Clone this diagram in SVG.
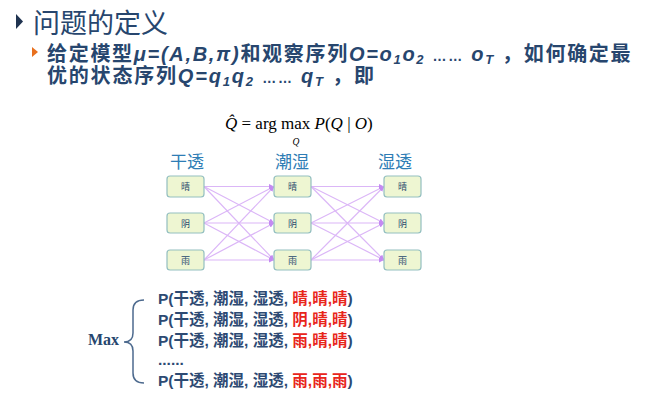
<svg xmlns="http://www.w3.org/2000/svg" width="656" height="400" viewBox="0 0 656 400">
<style>
.t{font-family:"Liberation Sans","Noto Sans CJK SC",sans-serif;fill:#27466E}
.h1{font-size:27px}
.h2{font-size:20px;font-weight:bold}
.it{font-style:italic}
.sub{font-size:13px}
.ell{font-size:14px}
.col{font-family:"Noto Sans CJK SC",sans-serif;font-size:17px;fill:#2E7DB5}
.node rect{fill:#EEF6D2;stroke:#93BFC0;stroke-width:1.2}
.node text{font-family:"Noto Sans CJK SC",sans-serif;font-size:9px;fill:#2A4A6E;text-anchor:middle}
.edge line{stroke:#DBB6F7;stroke-width:1.2;marker-end:url(#ah)}
.f{font-family:"Liberation Serif","Times New Roman",serif;fill:#000}
.p{font-family:"Liberation Sans","Noto Sans CJK SC",sans-serif;font-size:15.5px;font-weight:bold;fill:#2D4A73}
.r{fill:#E8251B}
</style>
<defs>
<marker id="ah" viewBox="0 0 10 10" refX="10" refY="5" markerWidth="5" markerHeight="5" orient="auto" markerUnits="userSpaceOnUse">
<path d="M0,0 L10,5 L0,10 z" fill="#C48AF2"/>
</marker>
</defs>
<rect width="656" height="400" fill="#fff"/>
<!-- title -->
<polygon points="16,14 23,21.5 16,29" fill="#1F3350"/>
<text class="t h1" x="33" y="33">问题的定义</text>
<polygon points="32,47 38,52 32,57" fill="#E8701E"/>
<text class="t h2" x="47" y="60.5" letter-spacing="1.7">给定模型<tspan class="it">μ=(A,B,π)</tspan>和观察序列<tspan class="it">O=o<tspan class="sub" dy="3">1</tspan><tspan dy="-3">o</tspan><tspan class="sub" dy="3">2</tspan></tspan><tspan dy="-3"> </tspan><tspan class="ell">……</tspan><tspan class="it"> o<tspan class="sub" dy="3">T</tspan></tspan><tspan dy="-3"> ，如何确定最</tspan></text>
<text class="t h2" x="47" y="83" letter-spacing="1.8">优的状态序列<tspan class="it">Q=q<tspan class="sub" dy="3">1</tspan><tspan dy="-3">q</tspan><tspan class="sub" dy="3">2</tspan></tspan><tspan dy="-3"> </tspan><tspan class="ell">……</tspan><tspan class="it"> q<tspan class="sub" dy="3">T</tspan></tspan><tspan dy="-3"> ，即</tspan></text>
<!-- formula -->
<g id="formula">
<text class="f" x="225" y="129" font-size="17"><tspan class="it">Q̂</tspan> = arg max <tspan class="it">P</tspan>(<tspan class="it">Q</tspan> | <tspan class="it">O</tspan>)</text>
<text class="f it" x="292.5" y="145" font-size="9.5">Q</text>
</g>
<!-- column labels -->
<text class="col" x="170" y="168">干透</text>
<text class="col" x="275" y="168">潮湿</text>
<text class="col" x="378" y="168">湿透</text>
<!-- connectors -->
<g id="edges" class="edge">
<line x1="204" y1="186.5" x2="274" y2="186.5"/>
<line x1="204" y1="186.5" x2="274" y2="223"/>
<line x1="204" y1="186.5" x2="274" y2="260"/>
<line x1="204" y1="223" x2="274" y2="186.5"/>
<line x1="204" y1="223" x2="274" y2="223"/>
<line x1="204" y1="223" x2="274" y2="260"/>
<line x1="204" y1="260" x2="274" y2="186.5"/>
<line x1="204" y1="260" x2="274" y2="223"/>
<line x1="204" y1="260" x2="274" y2="260"/>
<line x1="311" y1="186.5" x2="384" y2="186.5"/>
<line x1="311" y1="186.5" x2="384" y2="223"/>
<line x1="311" y1="186.5" x2="384" y2="260"/>
<line x1="311" y1="223" x2="384" y2="186.5"/>
<line x1="311" y1="223" x2="384" y2="223"/>
<line x1="311" y1="223" x2="384" y2="260"/>
<line x1="311" y1="260" x2="384" y2="186.5"/>
<line x1="311" y1="260" x2="384" y2="223"/>
<line x1="311" y1="260" x2="384" y2="260"/>
</g>
<!-- nodes -->
<g id="n11" class="node"><rect x="167" y="176" width="37" height="21" rx="3"/><text x="185.5" y="190">晴</text></g>
<g id="n12" class="node"><rect x="167" y="213" width="37" height="20" rx="3"/><text x="185.5" y="226.5">阴</text></g>
<g id="n13" class="node"><rect x="167" y="250" width="37" height="20" rx="3"/><text x="185.5" y="263.5">雨</text></g>
<g id="n21" class="node"><rect x="274" y="176" width="37" height="21" rx="3"/><text x="292.5" y="190">晴</text></g>
<g id="n22" class="node"><rect x="274" y="213" width="37" height="20" rx="3"/><text x="292.5" y="226.5">阴</text></g>
<g id="n23" class="node"><rect x="274" y="250" width="37" height="20" rx="3"/><text x="292.5" y="263.5">雨</text></g>
<g id="n31" class="node"><rect x="384" y="176" width="37" height="21" rx="3"/><text x="402.5" y="190">晴</text></g>
<g id="n32" class="node"><rect x="384" y="213" width="37" height="20" rx="3"/><text x="402.5" y="226.5">阴</text></g>
<g id="n33" class="node"><rect x="384" y="250" width="37" height="20" rx="3"/><text x="402.5" y="263.5">雨</text></g>
<!-- Max brace -->
<text x="88" y="345" font-family="Liberation Serif,serif" font-size="16" font-weight="bold" fill="#27466E">Max</text>
<path d="M144,300 Q133,300 133,310 L133,333 Q133,342 124,342 Q133,342 133,351 L133,373 Q133,383 144,383" fill="none" stroke="#4D6A8E" stroke-width="1.5"/>
<text class="p" x="158" y="304">P(干透, 潮湿, 湿透, <tspan class="r">晴,晴,晴</tspan>)</text>
<text class="p" x="158" y="325">P(干透, 潮湿, 湿透, <tspan class="r">阴,晴,晴</tspan>)</text>
<text class="p" x="158" y="346">P(干透, 潮湿, 湿透, <tspan class="r">雨,晴,晴</tspan>)</text>
<text class="p" x="158" y="365">......</text>
<text class="p" x="158" y="386">P(干透, 潮湿, 湿透, <tspan class="r">雨,雨,雨</tspan>)</text>
</svg>
